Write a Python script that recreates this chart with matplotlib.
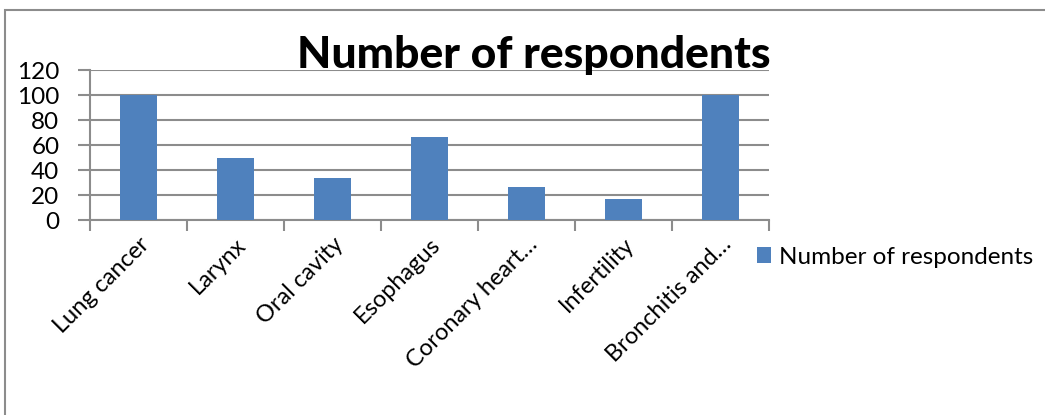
import matplotlib
matplotlib.use("Agg")
import matplotlib.pyplot as plt
from matplotlib.patches import Rectangle, Patch

categories = ["Lung cancer", "Larynx", "Oral cavity", "Esophagus",
              "Coronary heart…", "Infertility", "Bronchitis and…"]
values = [100, 50, 33.3, 66.7, 26.7, 16.7, 100]
yticks = [0, 20, 40, 60, 80, 100, 120]
series_name = "Number of respondents"
title = "Number of respondents"

plt.rcParams['font.family'] = ['Lato', 'DejaVu Sans']

W, H = 1045, 415
fig = plt.figure(figsize=(W / 100, H / 100), dpi=100)

# outer chart frame
fig.patches.append(Rectangle((5 / W, -0.1), 1.2, 1 - 10 / H + 0.1,
                             transform=fig.transFigure, fill=False,
                             edgecolor="#8c8c8c", linewidth=1.5))

ax = fig.add_axes([90 / W, 1 - 220 / H, (769 - 90) / W, (220 - 70) / H])
bar_color = "#4F81BD"
x = list(range(len(categories)))
ax.bar(x, values, width=0.39, color=bar_color, zorder=3, label=series_name)
ax.set_xlim(-0.5, len(categories) - 0.5)
ax.set_ylim(0, 120)
ax.set_yticks(yticks)
ax.set_yticklabels([str(v) for v in yticks], fontsize=17.5)
ax.yaxis.grid(True, color="#8c8c8c", linewidth=1.5, zorder=0)
ax.set_axisbelow(True)

for s in ["top", "right"]:
    ax.spines[s].set_visible(False)
ax.spines["left"].set_color("#8c8c8c")
ax.spines["bottom"].set_color("#8c8c8c")
ax.spines["left"].set_linewidth(1.5)
ax.spines["bottom"].set_linewidth(1.5)

ax.set_xticks([i - 0.5 for i in range(len(categories) + 1)], minor=False)
ax.set_xticklabels([])
ax.set_xticks(x, minor=True)
ax.set_xticklabels(categories, minor=True, rotation=45, ha="right",
                   rotation_mode="anchor", fontsize=17)
ax.tick_params(axis="x", which="major", length=8, width=1.5, color="#8c8c8c", direction="out")
ax.tick_params(axis="x", which="minor", length=0, pad=10)
ax.tick_params(axis="y", length=9, width=1.5, color="#8c8c8c", direction="out", pad=13)

fig.text(534 / W, 1 - 68 / H, title, ha="center", va="baseline",
         fontsize=32, fontweight=900, color="black")

fig.legend(handles=[Patch(facecolor=bar_color, label=series_name)],
           loc="center left", bbox_to_anchor=(735 / W, 1 - 257 / H),
           frameon=False, fontsize=17.5, handlelength=0.6, handleheight=0.6,
           handletextpad=0.3)

fig.savefig("out.png", dpi=100)
